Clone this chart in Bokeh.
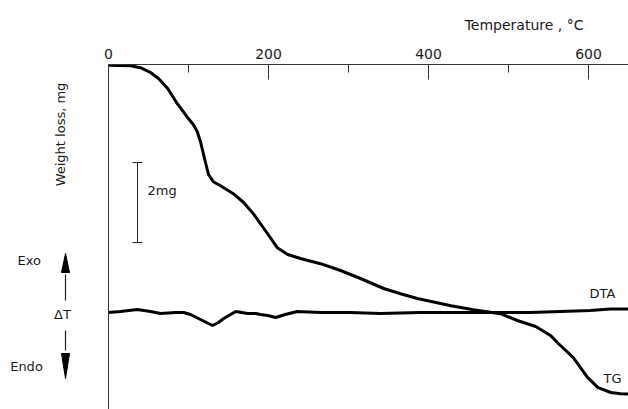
import numpy as np
from bokeh.plotting import figure
from bokeh.models import Range1d, SingleIntervalTicker, Span
from bokeh.core.properties import value
from bokeh.embed import file_html
from bokeh.resources import INLINE

# ---- data ----
tg_temp = [0, 27.5, 40, 52.5, 62.5, 74, 86, 99, 106, 111, 115, 120, 125, 131, 140, 156, 169, 181,
           196, 211, 224, 240, 265, 290, 315, 344, 365, 386, 428, 456, 490, 511, 534, 553, 561,
           581, 599, 612, 628, 640, 650]
tg_loss = [0.02, 0.03, 0.08, 0.2, 0.35, 0.6, 0.98, 1.33, 1.5, 1.68, 1.93, 2.35, 2.75, 2.93, 3.03,
           3.23, 3.45, 3.73, 4.15, 4.58, 4.75, 4.85, 4.98, 5.15, 5.35, 5.6, 5.73, 5.85, 6.03, 6.13,
           6.23, 6.4, 6.55, 6.78, 6.95, 7.33, 7.83, 8.08, 8.2, 8.23, 8.24]

dta_temp = [0, 15, 36, 52.5, 65, 84, 94, 102.5, 115, 130, 137.5, 144, 159, 174, 184, 190, 199,
            209, 221, 236, 265, 302, 340, 390, 440, 490, 527, 565, 602, 627, 650]
dta_val = [0, 0.1, 0.3, 0.1, -0.1, 0, 0, -0.2, -0.7, -1.3, -1.0, -0.6, 0.1, -0.1, -0.1, -0.2, -0.3,
           -0.5, -0.2, 0.1, 0, 0, -0.1, 0, 0, 0, 0, 0.1, 0.2, 0.35, 0.35]

x_ticks_interval = 200
x_title = "Temperature , °C"
y_title = "Weight loss, mg"
scale_bar_mg = 2.0

FONT = "DejaVu Sans"
INK = "#1a1a1a"

p = figure(width=628, height=409, x_range=Range1d(-135, 650), y_range=Range1d(8.625, 0),
           x_axis_location="above", y_axis_location=None, toolbar_location=None,
           output_backend="svg", min_border_left=0, min_border_right=0,
           min_border_top=64, min_border_bottom=0)
p.extra_y_ranges = {"dta": Range1d(-9.7, 24.8)}
p.grid.visible = False
p.outline_line_color = None
p.background_fill_color = "white"
p.border_fill_color = "white"

ax = p.xaxis[0]
ax.bounds = (0, 650)
ax.ticker = SingleIntervalTicker(interval=x_ticks_interval, num_minor_ticks=2)
ax.major_tick_in = 15
ax.major_tick_out = 0
ax.minor_tick_in = 8
ax.minor_tick_out = 0
ax.major_label_standoff = 6
ax.major_label_text_font = FONT
ax.major_label_text_font_size = "14px"
ax.major_label_text_color = INK
ax.axis_line_color = "#333333"
ax.major_tick_line_color = "#333333"
ax.minor_tick_line_color = "#333333"

p.title.text = x_title
p.title.align = "right"
p.title.offset = 45
p.title.text_font = FONT
p.title.text_font_size = "14px"
p.title.text_font_style = "normal"
p.title.text_color = INK
p.title.standoff = 25

# left vertical axis line
p.add_layout(Span(location=0, dimension="height", line_color="#333333", line_width=1))

# curves
p.line(tg_temp, tg_loss, line_color="black", line_width=3)
p.line(dta_temp, dta_val, line_color="black", line_width=3, y_range_name="dta")

# scale bar
bar_x, bar_top = 36.25, 2.45
cap = 6.25
p.segment([bar_x, bar_x - cap, bar_x - cap], [bar_top, bar_top, bar_top + scale_bar_mg],
          [bar_x, bar_x + cap, bar_x + cap], [bar_top + scale_bar_mg, bar_top, bar_top + scale_bar_mg],
          line_color="#222222", line_width=1)
p.text([48.75], [bar_top + 0.7], text=["2mg"], text_font=value(FONT), text_font_size="13px",
       text_color=INK, text_baseline="middle", text_align="left")

# left texts
p.text([-60], [1.75], text=[y_title], angle=np.pi / 2, text_font=value(FONT), text_font_size="13px",
       text_color=INK, text_baseline="middle", text_align="center")
p.text([-99, -57.5, -102.5], [5.2, -0.2, -5.4], text=["Exo", "ΔT", "Endo"], text_font=value(FONT),
       text_font_size="13px", text_color=INK, text_baseline="middle", text_align="center",
       y_range_name="dta")

# Exo / Endo arrows
ax_x = -53.75
hw = 5.0
p.segment([ax_x, ax_x], [1.2, -1.8], [ax_x, ax_x], [3.8, -3.8], line_color="#222222",
          line_width=1.2, y_range_name="dta")
p.patches([[ax_x - hw, ax_x, ax_x + hw], [ax_x - hw, ax_x, ax_x + hw]],
          [[4.0, 5.9, 4.0], [-4.1, -6.6, -4.1]], fill_color="black", line_color="black",
          y_range_name="dta")

# curve labels
p.text([617.5], [1.9], text=["DTA"], text_font=value(FONT), text_font_size="13px", text_color=INK,
       text_baseline="middle", text_align="center", y_range_name="dta")
p.text([630], [7.85], text=["TG"], text_font=value(FONT), text_font_size="13px", text_color=INK,
       text_baseline="middle", text_align="center")

open("out.html", "w").write(file_html(p, INLINE))
